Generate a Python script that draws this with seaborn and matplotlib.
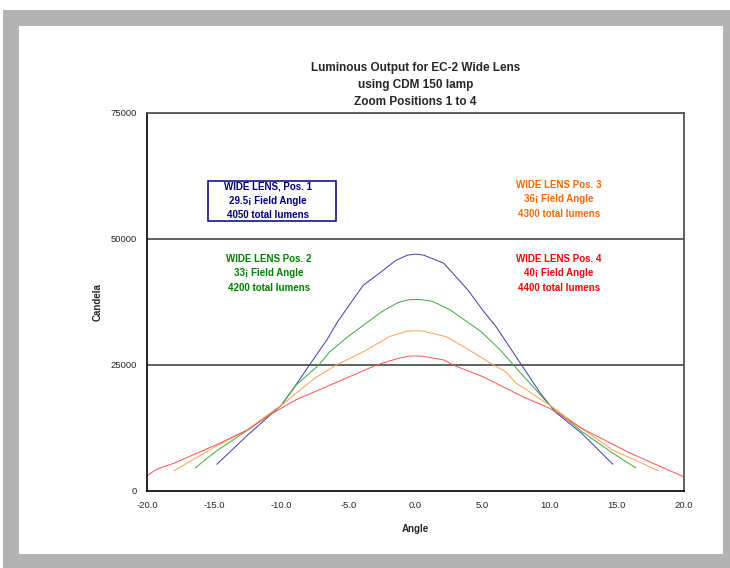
import numpy as np
import pandas as pd
import matplotlib
matplotlib.use("Agg")
import matplotlib.pyplot as plt
import seaborn as sns
from matplotlib.patches import Rectangle

# Candela curves (angle in degrees)
pos1_angle = [-14.8, -12.5, -10.0, -9.0, -7.9, -6.6, -5.8, -3.9, -2.5, -1.5, -0.6, 0.0, 0.6, 2.1, 3.9, 5.0, 6.0, 7.9, 9.3, 10.4, 12.4, 14.7]
pos1_cd = [5300, 11100, 17000, 20700, 25000, 30000, 33600, 40800, 43600, 45700, 46800, 47000, 46800, 45200, 39900, 35900, 32600, 25000, 19400, 15700, 11400, 5300]

pos2_angle = [-16.4, -14.9, -12.5, -10.0, -8.9, -7.2, -6.4, -5.0, -2.5, -1.3, -0.5, 0.0, 0.5, 1.3, 2.6, 4.9, 6.3, 7.4, 10.0, 12.4, 14.7, 16.4]
pos2_cd = [4600, 7800, 12100, 17000, 21000, 25000, 27600, 30700, 35600, 37400, 37950, 38000, 37950, 37600, 35900, 31600, 28000, 24700, 17000, 11800, 7500, 4600]

pos3_angle = [-18.0, -14.9, -12.5, -10.0, -7.5, -5.9, -3.9, -1.9, -0.6, 0.0, 0.6, 2.3, 3.8, 5.8, 6.7, 7.5, 10.0, 12.4, 14.7, 18.1]
pos3_cd = [4000, 8800, 12200, 17000, 22400, 25000, 27600, 30700, 31700, 31800, 31700, 30600, 28300, 25000, 23700, 21400, 17000, 12400, 8100, 4000]

pos4_angle = [-20.0, -19.3, -18.0, -14.9, -12.5, -10.8, -8.9, -6.9, -2.9, -1.3, -0.5, 0.0, 0.5, 2.1, 2.8, 5.0, 8.0, 10.0, 12.4, 16.0, 20.0]
pos4_cd = [3000, 4300, 5500, 9100, 12100, 15200, 18100, 20400, 25000, 26300, 26750, 26800, 26750, 26000, 25000, 22700, 18700, 16400, 12400, 7500, 2800]

series_names = ["Pos. 1", "Pos. 2", "Pos. 3", "Pos. 4"]
line_colors = ["#3c3caa", "#3caa3c", "#ff9f55", "#ff5050"]
text_colors = ["#000080", "#008000", "#ff6600", "#ff0000"]

x_ticks = [-20, -15, -10, -5, 0, 5, 10, 15, 20]
y_ticks = [0, 25000, 50000, 75000]

rows = []
for name, xs, ys in zip(series_names, [pos1_angle, pos2_angle, pos3_angle, pos4_angle],
                        [pos1_cd, pos2_cd, pos3_cd, pos4_cd]):
    for a, c in zip(xs, ys):
        rows.append({"Angle": a, "Candela": c, "Lens": name})
df = pd.DataFrame(rows)

sns.set_style("white")
plt.rcParams["font.family"] = ["Liberation Sans", "DejaVu Sans"]

fig = plt.figure(figsize=(7.3, 5.68), dpi=100)
W, H = 730, 568
# gray frame with white panel
fig.patches.append(Rectangle((3 / W, 0), 1 - 3 / W, 1 - 10 / H, transform=fig.transFigure,
                             facecolor="#b3b3b3", edgecolor="none", zorder=-2))
fig.patches.append(Rectangle((19 / W, 1 - 554 / H), (723 - 19) / W, (554 - 26) / H,
                             transform=fig.transFigure, facecolor="white", edgecolor="none", zorder=-1))

ax = fig.add_axes([147 / W, 1 - 491 / H, (684 - 147) / W, (491 - 113) / H])
ax.set_facecolor("white")

sns.lineplot(data=df, x="Angle", y="Candela", hue="Lens", palette=line_colors,
             sort=False, estimator=None, linewidth=0.7, legend=False, ax=ax)

ax.set_xlim(-20, 20)
ax.set_ylim(0, 75000)
ax.set_xticks(x_ticks)
ax.set_xticklabels([f"{v:.1f}" for v in x_ticks], fontsize=6.8)
ax.set_yticks(y_ticks)
ax.set_yticklabels([str(v) for v in y_ticks], fontsize=6.8)
ax.tick_params(axis="both", direction="out", length=4, width=0.8, color="black", pad=3)
for yv in y_ticks[1:]:
    ax.axhline(yv, color="#555555", linewidth=1.3, zorder=0.5)

for side in ["left", "bottom"]:
    ax.spines[side].set_color("black")
    ax.spines[side].set_linewidth(1.2)
for side in ["right", "top"]:
    ax.spines[side].set_visible(True)
    ax.spines[side].set_color("#555555")
    ax.spines[side].set_linewidth(1.3)

ax.set_xlabel("Angle", fontsize=7, fontweight="bold", labelpad=10)
ax.set_ylabel("Candela", fontsize=7, fontweight="bold", labelpad=6)

fig.text(415.5 / W, 1 - 62 / H,
         "Luminous Output for EC-2 Wide Lens\nusing CDM 150 lamp\nZoom Positions 1 to 4",
         fontsize=8.5, fontweight="bold", linespacing=1.55, ha="center", va="top",
         transform=fig.transFigure)

labels = [
    ("WIDE LENS, Pos. 1\n29.5¡ Field Angle\n4050 total lumens", -11.0, 57600),
    ("WIDE LENS Pos. 2\n33¡ Field Angle\n4200 total lumens", -10.9, 43200),
    ("WIDE LENS Pos. 3\n36¡ Field Angle\n4300 total lumens", 10.7, 57900),
    ("WIDE LENS Pos. 4\n40¡ Field Angle\n4400 total lumens", 10.7, 43200),
]
for i, (txt, lx, ly) in enumerate(labels):
    ax.text(lx, ly, txt, color=text_colors[i], fontsize=7, fontweight="bold",
            ha="center", va="center", linespacing=1.55)

# frame around the first label
ax.add_patch(Rectangle((-15.46, 53570), 9.54, 7940, facecolor="none",
                       edgecolor="#000080", linewidth=1.1, zorder=3))

fig.savefig("out.png", dpi=100)
